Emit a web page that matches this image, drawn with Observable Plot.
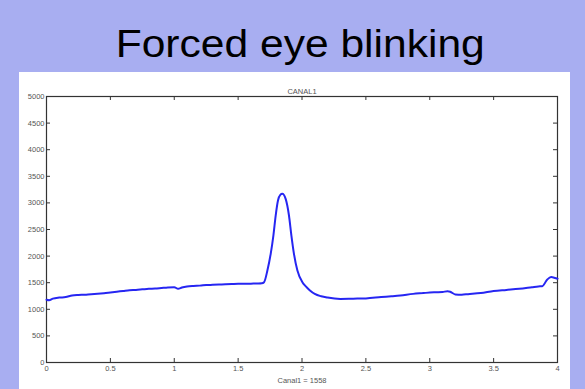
<!DOCTYPE html>
<html>
<head>
<meta charset="utf-8">
<script src="https://cdn.jsdelivr.net/npm/d3@7"></script>
<script src="https://cdn.jsdelivr.net/npm/@observablehq/plot@0.6"></script>
<style>
  html, body { margin: 0; padding: 0; }
  body { width: 585px; height: 389px; background: #a8aef1; position: relative; overflow: hidden; font-family: "Liberation Sans", Arial, sans-serif; }
  #title { position: absolute; left: 0; width: 600px; top: 25px; text-align: center; font-size: 38px; line-height: 38px; color: #000; transform: scaleX(1.12); transform-origin: 298px 0; }
  #panel { position: absolute; left: 19px; top: 72px; width: 551px; height: 317px; background: #fff; }
</style>
</head>
<body>
<div id="title">Forced eye blinking</div>
<div id="panel"></div>
<script>
const times = [0.00,0.02,0.05,0.10,0.15,0.20,0.25,0.30,0.35,0.40,0.45,0.50,0.55,0.60,0.65,0.70,0.75,0.80,0.85,0.90,0.95,1.00,1.03,1.06,1.10,1.15,1.20,1.25,1.30,1.35,1.40,1.45,1.50,1.55,1.60,1.65,1.685,1.703,1.729,1.755,1.776,1.794,1.812,1.83,1.846,1.872,1.898,1.917,1.937,1.964,2.003,2.03,2.06,2.10,2.15,2.20,2.30,2.40,2.50,2.62,2.70,2.77,2.87,2.95,3.00,3.05,3.10,3.14,3.16,3.20,3.25,3.30,3.40,3.50,3.60,3.70,3.80,3.85,3.88,3.92,3.95,3.98,4.00];
const canal1 = [1180,1170,1200,1220,1230,1260,1270,1275,1285,1290,1300,1315,1330,1345,1360,1365,1375,1385,1390,1400,1410,1415,1385,1410,1430,1440,1445,1455,1460,1465,1470,1475,1480,1478,1482,1485,1490,1510,1729,2043,2387,2763,3045,3150,3170,3075,2763,2387,2043,1729,1510,1430,1360,1290,1245,1220,1195,1200,1205,1230,1245,1260,1290,1305,1315,1320,1325,1340,1330,1280,1275,1285,1305,1345,1365,1385,1415,1430,1434,1560,1605,1590,1575];
const xTicks = [0,0.5,1,1.5,2,2.5,3,3.5,4];
const xTickLabels = ["0","0.5","1","1.5","2","2.5","3","3.5","4"];
const yTicks = [0,500,1000,1500,2000,2500,3000,3500,4000,4500,5000];
const plotTitle = "CANAL1";
const xLabel = "Canal1 = 1558";

const data = times.map((t, i) => ({t, v: canal1[i]}));
const W = 551, H = 317;
const mL = 27, mR = 13, mT = 24, mB = 27;
const fw = W - mL - mR, fh = H - mT - mB;
const tk = 4;
const axisColor = "#333";

const chart = Plot.plot({
  width: W, height: H,
  marginLeft: mL, marginRight: mR, marginTop: mT, marginBottom: mB,
  style: {fontFamily: "'Liberation Sans', Arial, sans-serif", fontSize: "7.5px", color: "#555", background: "transparent"},
  x: {domain: [0, 4]},
  y: {domain: [0, 5000]},
  marks: [
    Plot.axisX(xTicks, {tickSize: 0, tickPadding: 3, tickFormat: d => xTickLabels[xTicks.indexOf(d)], fill: "#555", label: null}),
    Plot.axisY(yTicks, {tickSize: 0, tickPadding: 2, tickFormat: d => String(d), fill: "#555", label: null}),
    Plot.tickX(xTicks, {x: d => d, insetBottom: fh - tk, stroke: axisColor}),
    Plot.tickX(xTicks, {x: d => d, insetTop: fh - tk, stroke: axisColor}),
    Plot.tickY(yTicks, {y: d => d, insetRight: fw - tk, stroke: axisColor}),
    Plot.tickY(yTicks, {y: d => d, insetLeft: fw - tk, stroke: axisColor}),
    Plot.frame({stroke: axisColor, strokeWidth: 1.2}),
    Plot.line(data, {x: "t", y: "v", stroke: "#2626f2", strokeWidth: 2, curve: "monotone-x"}),
    Plot.text([plotTitle], {frameAnchor: "top", dy: -8, text: d => d, fill: "#555", fontSize: 7.5}),
    Plot.text([xLabel], {frameAnchor: "bottom", dy: 20, text: d => d, fill: "#555", fontSize: 7.5})
  ]
});
document.getElementById("panel").appendChild(chart);
</script>
</body>
</html>
